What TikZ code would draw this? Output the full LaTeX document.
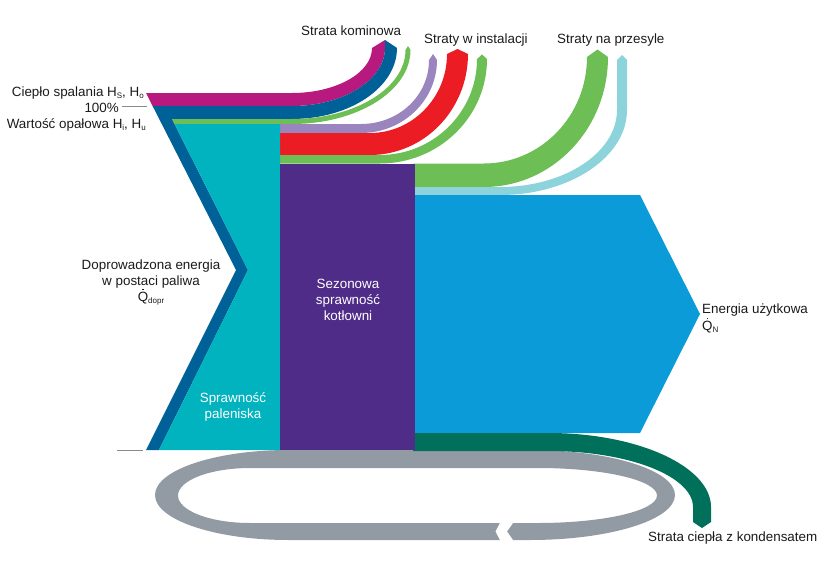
\documentclass[tikz,border=0pt]{standalone}
\usepackage{fontspec}
\setmainfont{Liberation Sans}
\definecolor{cMag}{HTML}{B8197E}
\definecolor{cBlue}{HTML}{006199}
\definecolor{cGreen}{HTML}{6DBE55}
\definecolor{cCyan}{HTML}{00B3BE}
\definecolor{cPurp}{HTML}{4F2C88}
\definecolor{cLav}{HTML}{9A85BE}
\definecolor{cRed}{HTML}{EC1C24}
\definecolor{cLBlue}{HTML}{8DD3DB}
\definecolor{cSky}{HTML}{0A9BD8}
\definecolor{cDGreen}{HTML}{00705A}
\definecolor{cGray}{HTML}{929BA3}
\definecolor{cLine}{HTML}{8A8A8A}
\definecolor{cTxt}{HTML}{1A1A1A}
\newcommand\sbx[1]{\raisebox{-2pt}{\fontsize{8}{8}\selectfont #1}}
\newcommand\Qdot{\rlap{\kern4.4pt\smash{\raisebox{10.8pt}{\rule{1.6pt}{1.6pt}}}}Q}
\begin{document}
\begin{tikzpicture}[x=1pt,y=-1pt,
  lbl/.style={inner sep=0pt, text=cTxt, font=\fontsize{13.4}{16}\selectfont},
  wlbl/.style={lbl, text=white},
  thin line/.style={draw=cLine, line width=0.8pt}]
\useasboundingbox (0,0) rectangle (828,570);

% gray return loop
\fill[cGray, even odd rule]
  (288.6,450) -- (530,450) .. controls (610,450) and (675,470.2) .. (675,495)
  .. controls (675,519.8) and (610,540) .. (530,540) -- (288.6,540)
  .. controls (214.9,540) and (155,519.8) .. (155,495)
  .. controls (155,470.2) and (214.9,450) .. (288.6,450) -- cycle
  (250,468) -- (538,468) .. controls (603.7,468) and (657,480.3) .. (657,495.5)
  .. controls (657,510.7) and (603.7,523) .. (538,523) -- (250,523)
  .. controls (210.3,523) and (178,510.7) .. (178,495.5)
  .. controls (178,480.3) and (210.3,468) .. (250,468) -- cycle;
\fill[white] (500,519) -- (513,519) -- (513,523) -- (507,531.5) -- (513,540) -- (513,544)
  -- (500,544) -- (500,540) -- (495.5,531.5) -- (500,523) -- cycle;

% chimney loss group
\fill[cMag] (146,93) -- (292,93) .. controls (336.2,93) and (372,72.8) .. (372,48)
  -- (385,40) -- (385,48) .. controls (385,80) and (343.3,106) .. (292,106) -- (152.6,106) -- cycle;
\fill[cBlue] (152.6,106) -- (292,106) .. controls (343.3,106) and (385,80) .. (385,48)
  -- (385,40) -- (397,48) .. controls (397,87.2) and (350,119) .. (292,119)
  -- (172,119) -- (248,270) -- (159,450) -- (146,450) -- (236,270) -- cycle;
\fill[cGreen] (172,119) -- (292,119) .. controls (354.7,119) and (405.5,88.1) .. (405.5,50)
  -- (408,46) -- (410.5,50) .. controls (410.5,90.8) and (357.4,124) .. (292,124) -- (174.5,124) -- cycle;

% installation loss group
\fill[cLav] (278,124) -- (361,124) .. controls (398.5,124) and (429,95.9) .. (429,60)
  -- (433,54) -- (437,60) .. controls (437,100.3) and (403,133) .. (361,133) -- (278,133) -- cycle;
\fill[cRed] (278,133) -- (370,133) .. controls (412.5,133) and (447,97.6) .. (447,54)
  -- (457.5,49) -- (468,54) .. controls (468,109.8) and (424.1,155) .. (370,155) -- (278,155) -- cycle;
\fill[cGreen] (278,155) -- (380,155) .. controls (433.5,155) and (477,112) .. (477,59)
  -- (482,54.5) -- (487,59) .. controls (487,116.7) and (439.1,163.5) .. (380,163.5) -- (278,163.5) -- cycle;

% transmission loss group
\fill[cGreen] (413,163.5) -- (484,163.5) .. controls (540.9,163.5) and (587,115.8) .. (587,57)
  -- (597.5,49.5) -- (608,57) .. controls (608,128.8) and (552.4,187) .. (484,187) -- (413,187) -- cycle;
\fill[cLBlue] (413,187) -- (500,187) .. controls (564.6,187) and (617,152.5) .. (617,110)
  -- (617,60) -- (622,55) -- (627,60) -- (627,110) .. controls (627,156.9) and (570.1,195) .. (500,195)
  -- (413,195) -- cycle;

% useful energy and condensate loss
\fill[cSky] (413,195) -- (640,195) -- (700,314) -- (640,433) -- (413,433) -- cycle;
\fill[cDGreen] (413,433) -- (548.7,433) .. controls (638.3,433) and (711,466.7) .. (711,507)
  -- (711,522) -- (702,528) -- (693,522) -- (693,507) .. controls (693,476.1) and (628.4,451) .. (548.7,451)
  -- (413,451) -- cycle;

% furnace and boiler blocks
\fill[cCyan] (174.5,124) -- (280,124) -- (280,450) -- (159,450) -- (248,270) -- cycle;
\fill[cPurp] (280,163.5) rectangle (415,450);

% reference lines
\coordinate (h100a) at (122,106.5);
\coordinate (h100b) at (147,106.5);
\coordinate (hbasea) at (117,450);
\coordinate (hbaseb) at (143,450);
\draw[thin line] (h100a) -- (h100b);
\draw[thin line] (hbasea) -- (hbaseb);

% labels
\node[lbl, anchor=base west] (tkom) at (301,35) {Strata kominowa};
\node[lbl, anchor=base west] (tins) at (424,43) {Straty w instalacji};
\node[lbl, anchor=base west] (tprz) at (557,43) {Straty na przesyle};
\node[lbl, anchor=base west] (tkond) at (648,541) {Strata ciepła z kondensatem};
\node[lbl, anchor=base east] (tcs) at (144,96) {Ciepło spalania H\sbx{S}, H\sbx{o}};
\node[lbl, anchor=base east] (t100) at (119,112) {100\%};
\node[lbl, anchor=base east] (twop) at (146,128) {Wartość opałowa H\sbx{i}, H\sbx{u}};
\node[lbl, anchor=base, align=center] (tdop) at (151,301) {Doprowadzona energia\\w postaci paliwa\\\Qdot\sbx{dopr}};
\node[wlbl, anchor=base, align=center] (tspr) at (233,418) {Sprawność\\paleniska};
\node[wlbl, anchor=base, align=center] (tsez) at (348,320) {Sezonowa\\sprawność\\kotłowni};
\node[lbl, anchor=base west, align=left] (tenu) at (702,330) {Energia użytkowa\\[1pt]\Qdot\sbx{N}};
\end{tikzpicture}
\end{document}
